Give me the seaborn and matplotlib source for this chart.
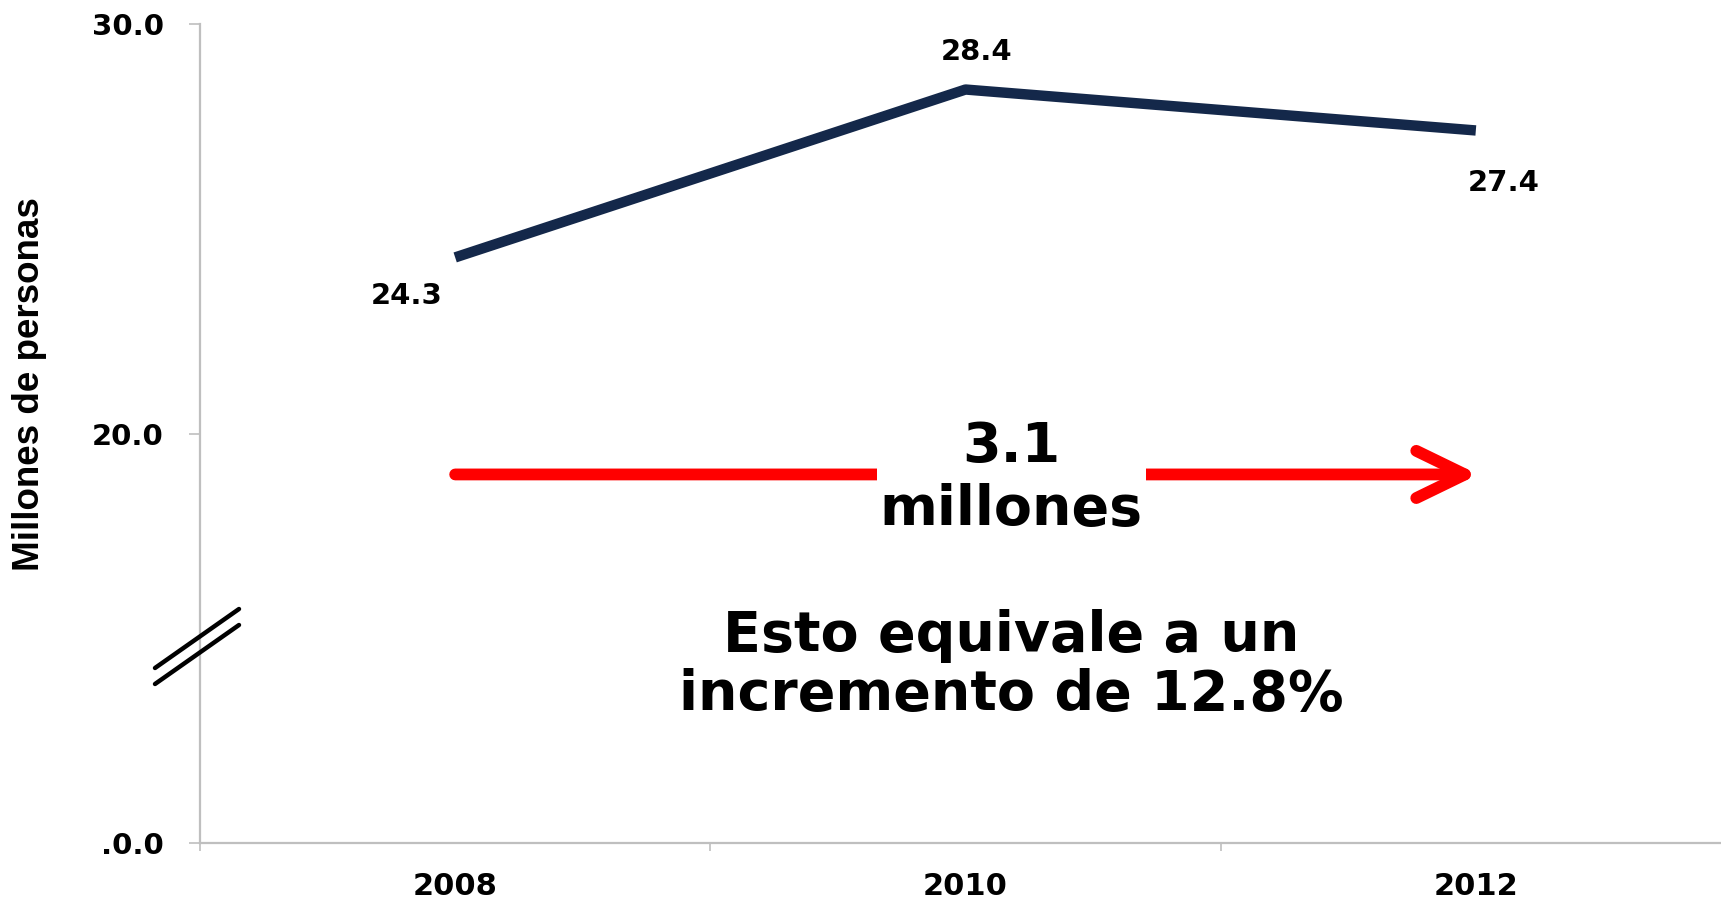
import matplotlib
matplotlib.use("Agg")
import matplotlib.pyplot as plt
import seaborn as sns
import pandas as pd
from matplotlib.lines import Line2D

# data
years = ["2008", "2010", "2012"]
personas = [24.3, 28.4, 27.4]          # millones de personas
y_ticks = [10.0, 20.0, 30.0]
y_tick_labels = [".0.0", "20.0", "30.0"]
arrow_y = 19.0
cambio_label = "3.1\nmillones"
nota = "Esto equivale a un\nincremento de 12.8%"

df = pd.DataFrame({"year": years, "personas": personas})

sns.set_style("white")
plt.rcParams["font.family"] = ["DejaVu Sans"]

fig = plt.figure(figsize=(17.21, 9.01), dpi=100)
ax = fig.add_axes([200 / 1721, 58 / 901, 1531 / 1721, 819 / 901])

sns.lineplot(data=df, x="year", y="personas", ax=ax, sort=False,
             color="#14284a", linewidth=7.5, solid_capstyle="butt")

ax.set_xlim(-0.5, 2.5)
ax.set_ylim(10, 30)

# data labels
offsets = [(-35, -28), (8, 27), (20, -38)]
for i, (v, off) in enumerate(zip(personas, offsets)):
    ax.annotate(f"{v:.1f}", (i, v), xytext=off, textcoords="offset points",
                ha="center", va="center", fontsize=21, fontweight="bold",
                color="black")

# red arrow with the change in the middle
ax.annotate("", xy=(2.005, arrow_y), xytext=(0, arrow_y),
            arrowprops=dict(arrowstyle="->,head_length=3.5,head_width=1.7",
                            color="#ff0000", lw=8.5, capstyle="round",
                            joinstyle="round", shrinkA=0, shrinkB=0))
ax.text(1.09, arrow_y - 0.1, cambio_label, ha="center", va="center",
        fontsize=40, fontweight="bold", linespacing=1.2, color="black",
        bbox=dict(facecolor="white", edgecolor="none", pad=2))
ax.text(1.09, 14.34, nota, ha="center", va="center", fontsize=40,
        fontweight="bold", linespacing=1.13, color="black")

# axes styling
for s in ["top", "right"]:
    ax.spines[s].set_visible(False)
for s in ["left", "bottom"]:
    ax.spines[s].set_color("#bfbfbf")
    ax.spines[s].set_linewidth(1.6)

ax.set_yticks(y_ticks)
ax.set_yticklabels(y_tick_labels, fontsize=21, fontweight="bold")
ax.tick_params(axis="y", direction="out", length=8, width=1.2,
               color="#bfbfbf", labelcolor="black", pad=18, left=True)
ax.set_xticks(range(len(years)))
ax.set_xticklabels(years, fontsize=22, fontweight="bold")
ax.set_xticks([-0.5, 0.5, 1.5, 2.5], minor=True)
ax.tick_params(axis="x", which="major", length=0, pad=21, labelcolor="black")
ax.tick_params(axis="x", which="minor", direction="out", length=6,
               width=1.2, color="#bfbfbf", bottom=True)
ax.set_xlabel("")
ax.set_ylabel("Millones de personas", fontsize=26.5, fontweight="bold",
              color="black", family=["Liberation Sans", "DejaVu Sans"])
ax.yaxis.set_label_coords(-0.1, 0.56)

# axis break marks
for dy in (0, 16):
    fig.add_artist(Line2D([155 / 1721, 239 / 1721],
                          [1 - (668 + dy) / 901, 1 - (609 + dy) / 901],
                          transform=fig.transFigure, color="black", lw=3.2,
                          solid_capstyle="round"))

fig.savefig("out.png", dpi=100)
